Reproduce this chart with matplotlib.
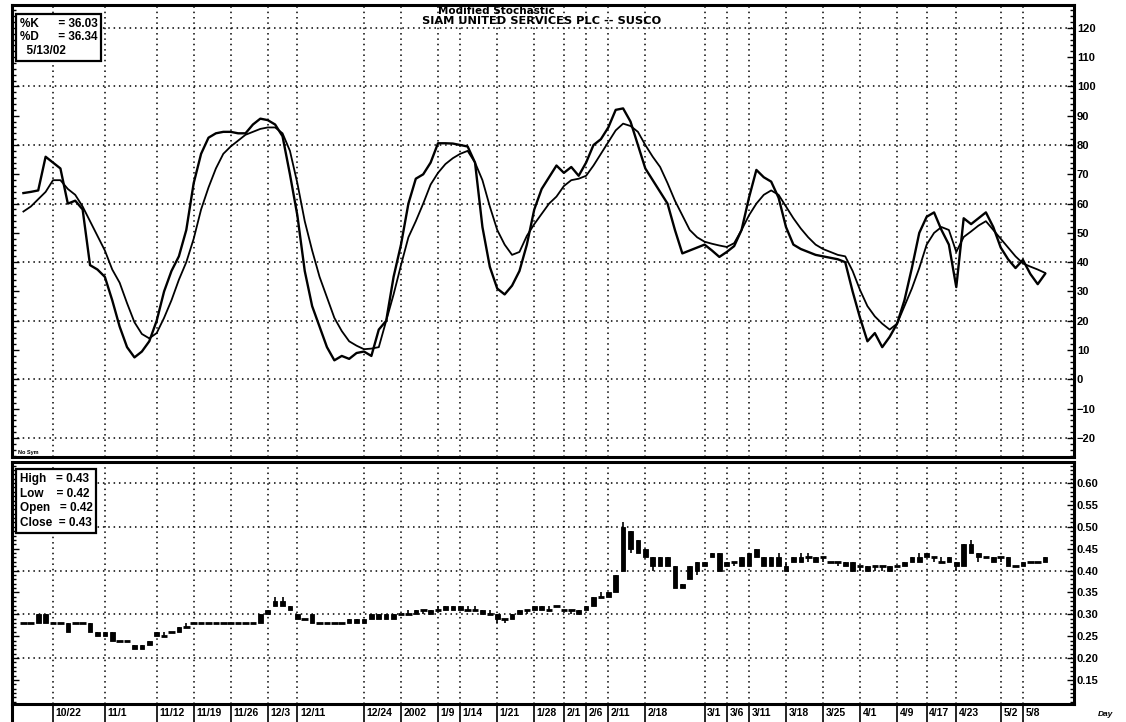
import numpy as np
import matplotlib
matplotlib.use("Agg")
import matplotlib.pyplot as plt
from matplotlib.ticker import MultipleLocator
import matplotlib.transforms as mtrans

plt.rcParams['font.family'] = ['Liberation Sans', 'DejaVu Sans']

# trading-day index, 10/22/01 = 0, last bar 5/13/02 = 134
days = np.arange(-4, 135)

pct_k = [63.6, 64, 64.5, 76, 74, 72, 60, 61, 58, 39, 37.5, 35, 27, 18, 11, 7.5, 9.5, 13, 20, 30,
         37, 42, 51, 67, 77, 82.5, 84, 84.5, 84.5, 84, 84, 87, 89, 88.5, 87, 83, 70, 56, 37, 25,
         18, 11, 6.5, 8, 7, 9, 9.5, 8, 17, 20, 35, 46, 60, 68.5, 70, 74, 80.6, 80.6, 80.5, 80,
         79.5, 74, 52, 38.4, 31, 29, 32, 37, 46, 58, 65, 69, 73, 70.5, 72.5, 69.5, 74, 80, 82, 86,
         92, 92.5, 88, 80, 72, 68, 64, 60, 51, 43, 44, 45, 46, 44, 41.8, 43.5, 45.5, 51, 62, 71.5,
         69, 67.5, 62, 52, 46, 44.5, 43.5, 42.5, 42, 41.5, 41, 40, 30, 21, 13, 15.8, 11, 14.5, 19, 27,
         38, 50, 55.5, 57, 51, 46, 31.5, 55, 53, 55, 57, 52, 45, 41, 38, 40.8, 36, 32.5, 36.03]

pct_d = [57.3, 59, 61.5, 64, 68, 68, 65, 63, 59, 54, 49, 44, 37.5, 33, 26, 19.5, 15.5, 14, 15.8, 21,
         27, 34, 40, 48, 58, 65.5, 72, 77, 79.5, 81.5, 83.5, 84.5, 85.5, 86, 86, 84, 78, 67, 54, 44,
         35, 28, 21, 16.5, 13, 11.5, 10.3, 10.5, 11, 20, 29, 39, 48.5, 54, 60, 66.5, 70.5, 73.5, 75.5, 77,
         78, 74, 68, 59, 51, 46, 42.5, 43.5, 49, 53, 56.5, 60, 62.4, 66, 68, 68.5, 69.5, 73, 77, 81,
         85, 87.3, 86.5, 84.5, 80, 76, 72.5, 67, 61, 56, 51, 48.5, 47, 46.3, 45.7, 45.2, 46.5, 51, 56, 60,
         63, 64.5, 63, 59, 55, 51.5, 48.5, 46, 44.5, 43.5, 42.5, 42, 37, 30.5, 25, 21.5, 19, 17, 19, 25,
         31, 38, 46, 50, 52, 51, 43.5, 48.6, 50.5, 52.5, 54, 51, 48, 45, 42, 39.6, 38.5, 37.5, 36.34]

# daily prices, ten days per row (rows start at day -4, 6, 16, ...)
opens = [.28, .28, .28, .30, .28, .28, .28, .28, .28, .28,
         .26, .26, .26, .24, .24, .23, .22, .23, .25, .25,
         .26, .26, .27, .28, .28, .28, .28, .28, .28, .28,
         .28, .28, .28, .30, .32, .33, .31, .30, .29, .30,
         .28, .28, .28, .28, .28, .29, .28, .29, .30, .29,
         .30, .30, .30, .30, .31, .31, .31, .32, .31, .32,
         .31, .31, .30, .30, .30, .29, .29, .30, .31, .31,
         .32, .31, .32, .31, .31, .30, .31, .32, .34, .34,
         .35, .40, .49, .47, .45, .43, .43, .43, .41, .37,
         .38, .40, .41, .43, .44, .42, .42, .41, .41, .45,
         .43, .43, .41, .41, .42, .43, .43, .43, .43, .42,
         .42, .42, .42, .41, .41, .41, .41, .41, .41, .41,
         .42, .43, .43, .43, .42, .42, .42, .41, .46, .44,
         .43, .43, .43, .43, .41, .41, .42, .42, .42]
highs = [.28, .28, .30, .30, .28, .28, .28, .28, .28, .28,
         .26, .26, .26, .24, .24, .23, .23, .24, .26, .26,
         .26, .27, .28, .28, .28, .28, .28, .28, .28, .28,
         .28, .28, .30, .31, .34, .34, .32, .30, .29, .30,
         .28, .28, .28, .28, .29, .29, .29, .30, .30, .30,
         .30, .30, .31, .31, .31, .31, .32, .32, .32, .32,
         .32, .32, .31, .31, .30, .29, .30, .31, .31, .32,
         .32, .32, .32, .31, .31, .31, .32, .34, .35, .35,
         .39, .51, .49, .47, .45, .43, .43, .43, .41, .37,
         .41, .42, .42, .44, .44, .42, .42, .43, .44, .45,
         .43, .43, .44, .42, .43, .44, .44, .43, .43, .42,
         .42, .42, .42, .41, .41, .41, .41, .41, .41, .42,
         .43, .44, .44, .43, .43, .43, .42, .46, .47, .44,
         .43, .43, .43, .43, .41, .42, .42, .42, .43]
lows = [.28, .28, .28, .28, .28, .28, .26, .28, .28, .26,
        .25, .25, .24, .24, .24, .22, .22, .23, .25, .25,
        .26, .26, .27, .28, .28, .28, .28, .28, .28, .28,
        .28, .28, .28, .30, .32, .32, .31, .29, .29, .28,
        .28, .28, .28, .28, .28, .28, .28, .29, .29, .29,
        .29, .30, .30, .30, .30, .30, .31, .31, .31, .31,
        .31, .31, .30, .30, .28, .28, .29, .30, .30, .31,
        .31, .31, .32, .31, .30, .30, .31, .32, .34, .34,
        .35, .40, .44, .44, .43, .40, .41, .41, .36, .36,
        .38, .39, .41, .43, .40, .41, .41, .41, .41, .43,
        .41, .41, .41, .40, .42, .42, .42, .42, .42, .42,
        .41, .41, .40, .40, .40, .40, .40, .40, .41, .41,
        .42, .42, .43, .42, .42, .42, .40, .41, .44, .42,
        .43, .42, .42, .41, .41, .41, .42, .42, .42]
closes = [.28, .28, .30, .28, .28, .28, .26, .28, .28, .26,
          .25, .25, .24, .24, .24, .22, .23, .24, .26, .25,
          .26, .27, .27, .28, .28, .28, .28, .28, .28, .28,
          .28, .28, .30, .31, .33, .32, .32, .29, .29, .28,
          .28, .28, .28, .28, .29, .28, .29, .30, .29, .30,
          .29, .30, .30, .31, .31, .30, .31, .31, .32, .31,
          .31, .31, .31, .30, .29, .29, .30, .31, .31, .32,
          .31, .31, .32, .31, .31, .31, .32, .34, .34, .35,
          .39, .50, .45, .44, .43, .41, .41, .41, .36, .36,
          .41, .42, .42, .44, .40, .41, .42, .43, .44, .43,
          .41, .41, .43, .40, .43, .42, .43, .42, .43, .42,
          .42, .41, .40, .41, .40, .41, .41, .40, .41, .42,
          .43, .42, .44, .43, .42, .43, .41, .46, .44, .43,
          .43, .42, .43, .41, .41, .42, .42, .42, .43]

tick_pos = [0, 7, 14, 19, 24, 29, 33, 42, 47, 52, 55, 60, 65, 69, 72, 75, 80, 88, 91, 94,
            99, 104, 109, 114, 118, 122, 128, 131]
tick_labels = ["10/22", "11/1", "11/12", "11/19", "11/26", "12/3", "12/11", "12/24", "2002", "1/9",
               "1/14", "1/21", "1/28", "2/1", "2/6", "2/11", "2/18", "3/1", "3/6", "3/11",
               "3/18", "3/25", "4/1", "4/9", "4/17", "4/23", "5/2", "5/8"]

fig = plt.figure(figsize=(11.26, 7.22), dpi=100)
W, H = 1126.0, 722.0
x_left, x_right = 12, 1074
ax1 = fig.add_axes([x_left / W, 1 - 457 / H, (x_right - x_left) / W, (457 - 5) / H])
ax2 = fig.add_axes([x_left / W, 1 - 704 / H, (x_right - x_left) / W, (704 - 462) / H])

xlim = (-5.54, 137.9)
dots = (0, (1, 2.5))
bold = dict(fontweight='bold', fontsize=7.5)

for ax in (ax1, ax2):
    ax.set_xlim(*xlim)
    ax.set_xticks(tick_pos)
    ax.xaxis.grid(True, linestyle=dots, color='black', linewidth=1.1)
    ax.set_axisbelow(True)
    for sp in ax.spines.values():
        sp.set_linewidth(2.2)
    ax.tick_params(axis='x', length=0, labelbottom=False)
    ax.tick_params(axis='y', which='both', direction='in', left=True, right=True,
                   labelleft=False, labelright=True, width=1, pad=2, labelsize=8)
    ax.tick_params(axis='y', which='major', length=5)
    ax.tick_params(axis='y', which='minor', length=3)

# top panel: modified stochastic
ax1.plot(days, pct_d, color='black', linewidth=1.3)
ax1.plot(days, pct_k, color='black', linewidth=1.7)
ax1.set_ylim(-26.5, 127.8)
ax1.set_yticks(np.arange(-20, 121, 10))
ax1.yaxis.set_minor_locator(MultipleLocator(2))
for v in range(-20, 121, 20):
    ax1.axhline(v, linestyle=dots, color='black', linewidth=1.1, zorder=0)
for lab in ax1.get_yticklabels():
    lab.set_fontweight('bold')

ax1.text(0.4565, 0.997, "Modified Stochastic", transform=ax1.transAxes, ha='center', va='top',
         family='DejaVu Sans', fontweight='bold', fontsize=7.5)
ax1.text(0.499, 0.976, "SIAM UNITED SERVICES PLC -- SUSCO", transform=ax1.transAxes, ha='center', va='top',
         family='DejaVu Sans', fontweight='bold', fontsize=8.2)
ax1.text(0.0075, 0.972, "%K      = 36.03\n%D      = 36.34\n  5/13/02", transform=ax1.transAxes,
         ha='left', va='top', fontweight='bold', fontsize=8.5, linespacing=1.2,
         bbox=dict(boxstyle='square,pad=0.3', facecolor='white', edgecolor='black', linewidth=1.6))
ax1.text(0.006, 0.005, "No Sym", transform=ax1.transAxes, ha='left', va='bottom', fontsize=4, fontweight='bold')

# bottom panel: daily price candles
o = np.array(opens)
c = np.array(closes)
flat = np.abs(c - o) < 1e-9
body_lo = np.minimum(o, c)
body_h = np.abs(c - o)
ax2.vlines(days, lows, highs, color='black', linewidth=1.2, zorder=2)
ax2.bar(days[~flat], body_h[~flat], bottom=body_lo[~flat], width=0.62, color='black',
        edgecolor='black', linewidth=0.6, zorder=3)
ax2.hlines(o[flat], days[flat] - 0.45, days[flat] + 0.45, color='black', linewidth=2, zorder=3)
ax2.set_ylim(0.095, 0.648)
price_ticks = np.arange(0.15, 0.601, 0.05)
ax2.set_yticks(price_ticks)
ax2.set_yticklabels(["%.2f" % v for v in price_ticks])
ax2.yaxis.set_minor_locator(MultipleLocator(0.01))
for v in np.arange(0.2, 0.61, 0.1):
    ax2.axhline(v, linestyle=dots, color='black', linewidth=1.1, zorder=0)
for lab in ax2.get_yticklabels():
    lab.set_fontweight('bold')

ax2.text(0.0075, 0.955, "High   = 0.43\nLow    = 0.42\nOpen   = 0.42\nClose  = 0.43", transform=ax2.transAxes,
         ha='left', va='top', fontweight='bold', fontsize=8.5, linespacing=1.3,
         bbox=dict(boxstyle='square,pad=0.3', facecolor='white', edgecolor='black', linewidth=1.6))

# date row with boxed labels under the price panel
trans = mtrans.blended_transform_factory(ax2.transData, ax2.transAxes)
ax2.vlines(tick_pos, -0.075, 0, transform=trans, color='black', linewidth=1.2, clip_on=False)
ax2.vlines([xlim[0]], -0.075, 0, transform=trans, color='black', linewidth=2.2, clip_on=False)
for p, lab in zip(tick_pos, tick_labels):
    ax2.text(p + 0.35, -0.038, lab, transform=trans, ha='left', va='center', clip_on=False, **bold)
fig.text(1105 / W, 1 - 714 / H, "Day", ha='center', va='center', fontsize=6, fontweight='bold', fontstyle='italic')

fig.savefig("out.png", dpi=100)
